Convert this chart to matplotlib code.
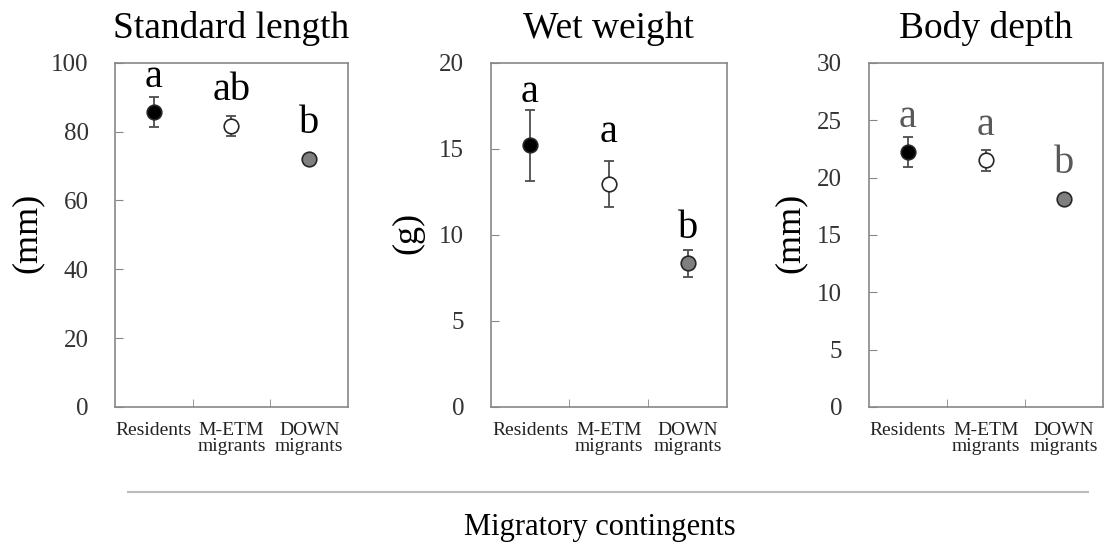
import numpy as np
import matplotlib
matplotlib.use("Agg")
import matplotlib.pyplot as plt
from matplotlib.lines import Line2D

plt.rcParams['font.family'] = ['Liberation Serif', 'DejaVu Serif']

groups = ["Residents", "M-ETM\nmigrants", "DOWN\nmigrants"]
titles = ["Standard length", "Wet weight", "Body depth"]
units = ["(mm)", "(g)", "(mm)"]

# means and error
sl_mean = [85.8, 81.7, 72.1]
sl_err = [4.4, 2.9, 1.0]
ww_mean = [15.2, 12.95, 8.35]
ww_err = [2.05, 1.35, 0.78]
bd_mean = [22.2, 21.5, 18.1]
bd_err = [1.3, 0.9, 0.3]

# significance letters and their baselines
sl_letters = ["a", "ab", "b"]
sl_letter_y = [93.0, 89.2, 79.7]
ww_letters = ["a", "a", "b"]
ww_letter_y = [17.7, 15.4, 9.8]
bd_letters = ["a", "a", "b"]
bd_letter_y = [24.4, 23.7, 20.4]

ylims = [100, 20, 30]
ysteps = [20, 5, 5]

face_cols = ["black", "white", "#7f7f7f"]
letter_cols = ["black", "black", "#595959"]

means = [sl_mean, ww_mean, bd_mean]
errs = [sl_err, ww_err, bd_err]
letters = [sl_letters, ww_letters, bd_letters]
letter_ys = [sl_letter_y, ww_letter_y, bd_letter_y]

fig = plt.figure(figsize=(11.05, 5.52), dpi=100)

lefts = [0.104, 0.444, 0.786]
widths = [0.211, 0.214, 0.212]
label_x = [-0.378, -0.35, -0.333]

x = np.arange(1, 4)

for i in range(3):
    ax = fig.add_axes([lefts[i], 0.263, widths[i], 0.623])
    for j in range(3):
        ax.errorbar(x[j], means[i][j], yerr=errs[i][j], fmt="none",
                    ecolor="#4d4d4d", elinewidth=1.3, capsize=3.3, capthick=1.3, zorder=2)
        ax.plot(x[j], means[i][j], "o", ms=10.5, mfc=face_cols[j],
                mec="#262626", mew=1.2, zorder=3)
        ax.text(x[j], letter_ys[i][j], letters[i][j], ha="center", va="baseline",
                fontsize=29, color=letter_cols[i])
    ax.set_xlim(0.5, 3.5)
    ax.set_ylim(0, ylims[i])
    ax.set_yticks(np.arange(0, ylims[i] + 0.1, ysteps[i]))
    ax.tick_params(axis="y", direction="in", length=6, color="#888888",
                   labelsize=18, labelcolor="#333333", pad=19)
    ax.set_xticks(x)
    ax.set_xticklabels(groups, fontsize=14, color="#222222", linespacing=0.92)
    ax.tick_params(axis="x", which="major", length=0, pad=11)
    ax.set_xticks([1.5, 2.5], minor=True)
    ax.tick_params(axis="x", which="minor", direction="in", length=6, color="#888888")
    for sp in ax.spines.values():
        sp.set_color("#888888")
        sp.set_linewidth(1.2)
    ax.set_title(titles[i], fontsize=27, pad=18)
    ax.set_ylabel(units[i], fontsize=26)
    ax.yaxis.label.set_verticalalignment("center")
    ax.yaxis.set_label_coords(label_x[i], 0.506)

fig.add_artist(Line2D([0.116, 0.985], [0.109, 0.109], color="#bbbbbb", lw=1.5))
fig.text(0.543, 0.045, "Migratory contingents", ha="center", va="center", fontsize=22)

fig.savefig("out.png", dpi=100)
